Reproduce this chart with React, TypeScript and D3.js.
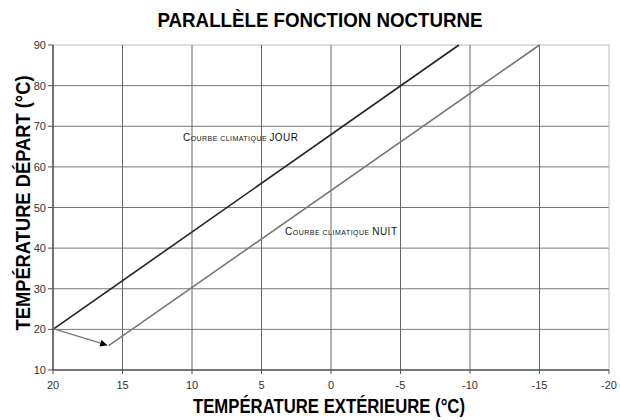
import React from "react";
import * as d3 from "d3";

const xTicks = [20, 15, 10, 5, 0, -5, -10, -15, -20];
const yTicks = [10, 20, 30, 40, 50, 60, 70, 80, 90];
const dayX = [20, -9.2];
const dayY = [20, 90];
const nightX = [16, -15];
const nightY = [16, 90];
const shiftX = [20, 16.1];
const shiftY = [20.2, 16.1];

const W = 620, H = 420;
const L = 53, R = 609, T = 45, B = 370;

export default function App() {
  const x = d3.scaleLinear().domain([20, -20]).range([L, R]);
  const y = d3.scaleLinear().domain([10, 90]).range([B, T]);
  const line = d3.line<[number, number]>().x(d => x(d[0])).y(d => y(d[1]));
  const zip = (a: number[], b: number[]) => a.map((v, i) => [v, b[i]] as [number, number]);
  const font = "'Liberation Sans', Arial, sans-serif";

  return (
    <svg width={W} height={H} style={{ position: "absolute", left: 0, top: 0, background: "#fff" }} fontFamily={font}>
      <defs>
        <marker id="arr" viewBox="0 0 10 10" refX="10" refY="5" markerWidth="9" markerHeight="7" markerUnits="userSpaceOnUse" orient="auto">
          <path d="M0,0 L10,5 L0,10 Z" fill="#000" />
        </marker>
      </defs>
      <text x={320} y={27} textAnchor="middle" fontSize={21} fontWeight="bold" textLength={325} lengthAdjust="spacingAndGlyphs" fill="#000">PARALLÈLE FONCTION NOCTURNE</text>
      {yTicks.map(t => (
        <line key={"h" + t} x1={L} x2={R} y1={y(t)} y2={y(t)} stroke={t === 90 ? "#bbb" : "#777"} strokeWidth={1} />
      ))}
      {xTicks.map(t => (
        <line key={"v" + t} x1={x(t)} x2={x(t)} y1={T} y2={B} stroke={t === -20 ? "#bbb" : "#666"} strokeWidth={1} />
      ))}
      <line x1={L} x2={L} y1={T} y2={B} stroke="#333" />
      <line x1={L} x2={R} y1={B} y2={B} stroke="#333" />
      {yTicks.map(t => (
        <g key={"yt" + t}>
          <line x1={L - 5} x2={L} y1={y(t)} y2={y(t)} stroke="#555" />
          <text x={L - 7} y={y(t) + 4} textAnchor="end" fontSize={11} fill="#333">{t}</text>
        </g>
      ))}
      {xTicks.map(t => (
        <g key={"xt" + t}>
          <line x1={x(t)} x2={x(t)} y1={B} y2={B + 4} stroke="#555" />
          <text x={x(t)} y={B + 19} textAnchor="middle" fontSize={11} fill="#333">{t}</text>
        </g>
      ))}
      <path d={line(zip(dayX, dayY)) || ""} stroke="#222" strokeWidth={1.6} fill="none" />
      <path d={line(zip(nightX, nightY)) || ""} stroke="#777" strokeWidth={1.6} fill="none" />
      <path d={line(zip(shiftX, shiftY)) || ""} stroke="#777" strokeWidth={1.3} fill="none" markerEnd="url(#arr)" />
      <text x={183} y={141} fontSize={7} fill="#111" textLength={115} lengthAdjust="spacing">
        <tspan fontSize={10}>C</tspan>OURBE CLIMATIQUE <tspan fontSize={10}>JOUR</tspan>
      </text>
      <text x={285} y={235} fontSize={7} fill="#111" textLength={112} lengthAdjust="spacing">
        <tspan fontSize={10}>C</tspan>OURBE CLIMATIQUE <tspan fontSize={10}>NUIT</tspan>
      </text>
      <text transform={`translate(30,203) rotate(-90)`} textAnchor="middle" fontSize={20} fontWeight="bold" textLength={255} lengthAdjust="spacingAndGlyphs" fill="#000">TEMPÉRATURE DÉPART (°C)</text>
      <text x={329} y={413} textAnchor="middle" fontSize={20} fontWeight="bold" textLength={272} lengthAdjust="spacingAndGlyphs" fill="#000">TEMPÉRATURE EXTÉRIEURE (°C)</text>
    </svg>
  );
}
